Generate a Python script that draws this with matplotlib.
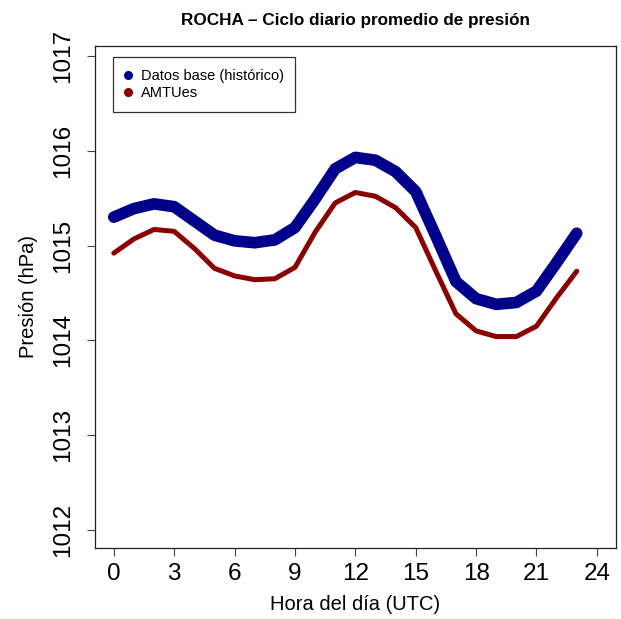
import matplotlib
matplotlib.use("Agg")
import matplotlib.pyplot as plt
from matplotlib.lines import Line2D

plt.rcParams['font.family'] = ['Liberation Sans', 'DejaVu Sans']

hours = list(range(24))
base = [1015.30, 1015.39, 1015.44, 1015.41, 1015.26, 1015.11, 1015.05, 1015.03,
        1015.06, 1015.19, 1015.49, 1015.81, 1015.93, 1015.90, 1015.78, 1015.57,
        1015.10, 1014.62, 1014.44, 1014.38, 1014.40, 1014.52, 1014.82, 1015.13]
amtues = [1014.92, 1015.07, 1015.17, 1015.15, 1014.97, 1014.76, 1014.68, 1014.64,
          1014.65, 1014.77, 1015.14, 1015.45, 1015.56, 1015.52, 1015.40, 1015.19,
          1014.73, 1014.28, 1014.10, 1014.04, 1014.04, 1014.15, 1014.45, 1014.73]
xticks = [0, 3, 6, 9, 12, 15, 18, 21, 24]
yticks = [1012, 1013, 1014, 1015, 1016, 1017]
labels = ["Datos base (histórico)", "AMTUes"]
colors = ["#00008B", "#8B0000"]
title = "ROCHA – Ciclo diario promedio de presión"

W, H = 621, 619
fig = plt.figure(figsize=(W / 100, H / 100), dpi=100)
ax = fig.add_axes([95 / W, 1 - 548 / H, (616 - 95) / W, (548 - 46) / H])

ax.plot(hours, base, color=colors[0], lw=8.4, solid_capstyle='round', solid_joinstyle='round')
ax.plot(hours, amtues, color=colors[1], lw=3.6, solid_capstyle='round', solid_joinstyle='round')

ax.set_xlim(-0.934, 24.95)
ax.set_ylim(1011.81, 1017.105)
ax.set_xticks(xticks)
ax.set_yticks(yticks)
ax.set_yticklabels([str(v) for v in yticks], rotation=90, va='center')
ax.tick_params(axis='both', direction='out', length=6, width=0.8, labelsize=17.5, color='#444444')
ax.tick_params(axis='x', pad=5)
ax.tick_params(axis='y', pad=9)
for s in ax.spines.values():
    s.set_linewidth(0.9)
    s.set_color('#222222')

ax.set_xlabel("Hora del día (UTC)", fontsize=14.5, labelpad=7)
ax.set_ylabel("Presión (hPa)", fontsize=14.5, labelpad=10)
ax.set_title(title, fontsize=12.3, fontweight='bold', pad=15)

handles = [Line2D([], [], marker='o', linestyle='None', color=c, markersize=5.5) for c in colors]
leg = ax.legend(handles, labels, loc='upper left', bbox_to_anchor=((113 - 95) / (616 - 95), (548 - 57) / (548 - 46)),
                fontsize=10.5, frameon=True, fancybox=False, borderpad=0.8, handletextpad=0.6,
                labelspacing=0.22, handlelength=0.5, borderaxespad=0)
leg.get_frame().set_edgecolor('black')
leg.get_frame().set_linewidth(0.9)

fig.savefig("out.png", dpi=100)
